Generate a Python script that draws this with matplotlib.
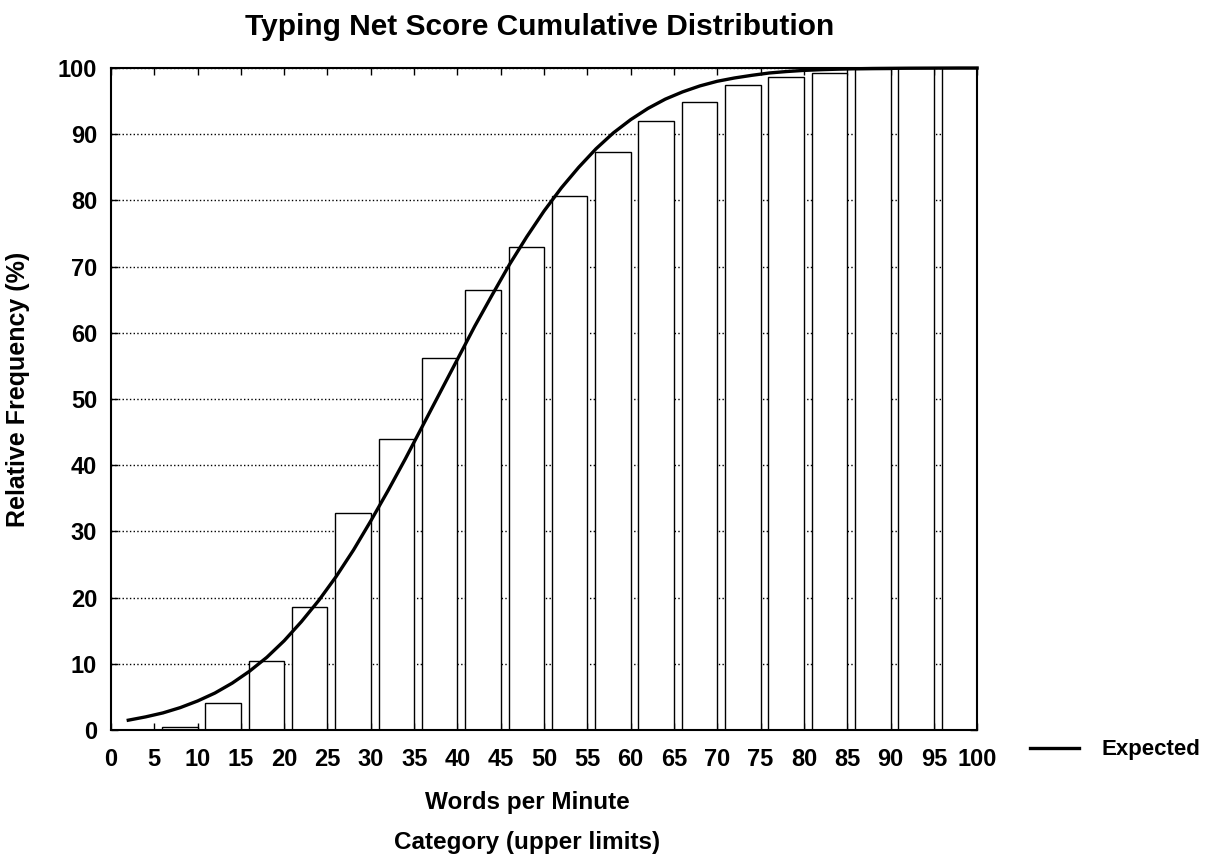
import matplotlib
matplotlib.use("Agg")
import matplotlib.pyplot as plt
from matplotlib.lines import Line2D

plt.rcParams['font.family'] = ['Liberation Sans', 'DejaVu Sans']
plt.rcParams['font.weight'] = 'bold'

# category upper limits (words per minute) and cumulative relative frequency (%)
upper_limits = [5, 10, 15, 20, 25, 30, 35, 40, 45, 50,
                55, 60, 65, 70, 75, 80, 85, 90, 95, 100]
cum_freq = [0.0, 0.5, 4.1, 10.5, 18.6, 32.8, 44.0, 56.2, 66.5, 73.0,
            80.7, 87.3, 92.0, 94.9, 97.5, 98.6, 99.2, 99.9, 100.0, 100.0]

# expected (fitted) cumulative curve
exp_x = [2, 4, 6, 8, 10, 12, 14, 16, 18, 20, 22, 24, 26, 28, 30, 32, 34, 36,
         38, 40, 42, 44, 46, 48, 50, 52, 54, 56, 58, 60, 62, 64, 66, 68, 70,
         72, 74, 76, 78, 80, 82, 84, 86, 88, 90, 92, 94, 96, 98, 100]
exp_y = [1.5, 2.0, 2.6, 3.4, 4.4, 5.6, 7.1, 8.9, 11.0, 13.5, 16.4, 19.6,
         23.2, 27.2, 31.6, 36.2, 41.0, 46.0, 51.0, 56.0, 61.0, 65.7, 70.3,
         74.5, 78.4, 81.9, 85.0, 87.8, 90.2, 92.2, 93.9, 95.3, 96.4, 97.3,
         98.0, 98.5, 98.9, 99.25, 99.47, 99.64, 99.75, 99.83, 99.89, 99.93,
         99.95, 99.97, 99.98, 99.99, 100.0, 100.0]

fig = plt.figure(figsize=(12.26, 8.61), dpi=100)
ax = fig.add_axes([0.0905, 0.152, 0.7065, 0.769])

ax.bar(upper_limits, cum_freq, width=-4.1, align='edge',
       facecolor='white', edgecolor='black', linewidth=1.0, zorder=2)
ax.plot(exp_x, exp_y, color='black', linewidth=2.4, zorder=3, clip_on=False,
        solid_joinstyle='round')

ax.set_xlim(0, 100)
ax.set_ylim(0, 100)
ax.set_xticks(range(0, 101, 5))
ax.set_yticks(range(0, 101, 10))
ax.yaxis.grid(True, linestyle=':', color='black', linewidth=1.0, zorder=0)
ax.set_axisbelow(True)

ax.tick_params(direction='in', length=5, width=1, top=True, right=True,
               labelsize=17)
ax.tick_params(axis='x', pad=13)
ax.tick_params(axis='y', pad=10)
for lbl in ax.get_xticklabels() + ax.get_yticklabels():
    lbl.set_fontweight('bold')
for s in ax.spines.values():
    s.set_linewidth(1.5)

fig.text(540 / 1226, 1 - 27 / 861, "Typing Net Score Cumulative Distribution",
         ha='center', va='center', fontsize=21.5, fontweight='bold')
fig.text(527 / 1226, 1 - 803 / 861, "Words per Minute",
         ha='center', va='center', fontsize=17.5, fontweight='bold')
fig.text(527 / 1226, 1 - 842 / 861, "Category (upper limits)",
         ha='center', va='center', fontsize=17.5, fontweight='bold')
fig.text(18 / 1226, 1 - 389 / 861, "Relative Frequency (%)",
         ha='center', va='center', rotation=90, fontsize=18, fontweight='bold')

handle = Line2D([], [], color='black', linewidth=2.4)
fig.legend([handle], ["Expected"], loc='center left',
           bbox_to_anchor=(1010 / 1226, 1 - 750 / 861), frameon=False,
           prop={'size': 16, 'weight': 'bold'}, handlelength=2.2,
           handletextpad=1.0)

fig.savefig("out.png", dpi=100)
